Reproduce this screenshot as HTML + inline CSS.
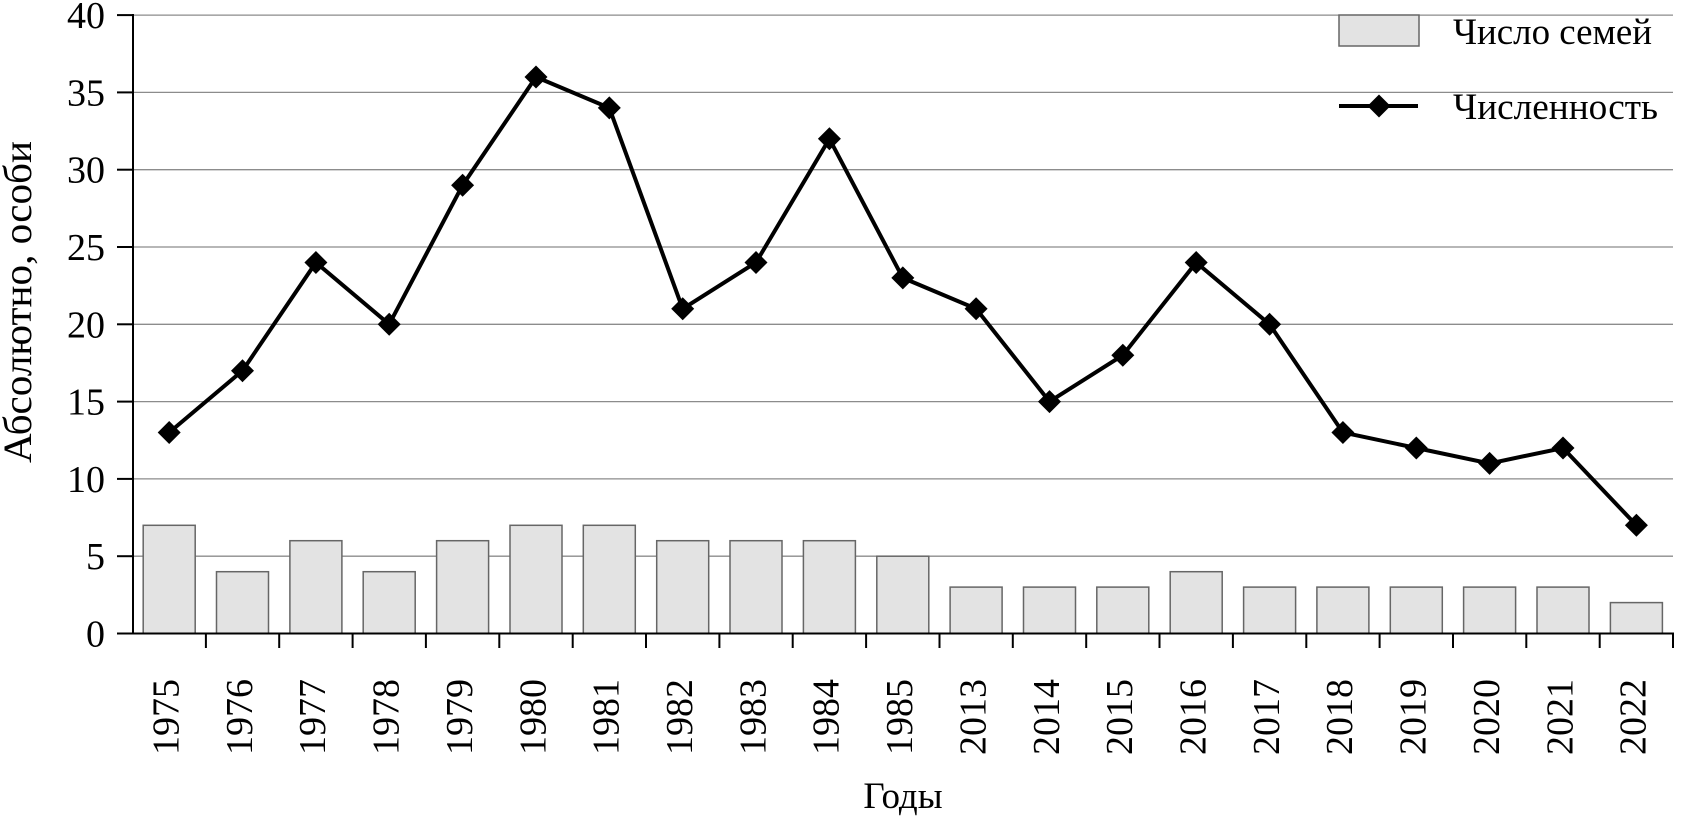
<!DOCTYPE html>
<html>
<head>
<meta charset="utf-8">
<style>
  html, body { margin: 0; padding: 0; background: #ffffff; }
  svg { display: block; }
  text { font-family: "Liberation Serif", "Noto Serif CJK SC", serif; fill: #000; }
</style>
</head>
<body>
<svg width="1689" height="818" viewBox="0 0 1689 818" xmlns="http://www.w3.org/2000/svg">
  <rect x="0" y="0" width="1689" height="818" fill="#ffffff"/>

  <!-- gridlines -->
  <g stroke="#8c8c8c" stroke-width="1.3">
    <line x1="133" y1="556.2" x2="1673" y2="556.2"/>
    <line x1="133" y1="478.9" x2="1673" y2="478.9"/>
    <line x1="133" y1="401.6" x2="1673" y2="401.6"/>
    <line x1="133" y1="324.3" x2="1673" y2="324.3"/>
    <line x1="133" y1="247.0" x2="1673" y2="247.0"/>
    <line x1="133" y1="169.7" x2="1673" y2="169.7"/>
    <line x1="133" y1="92.4" x2="1673" y2="92.4"/>
    <line x1="133" y1="15.1" x2="1673" y2="15.1"/>
  </g>

  <!-- bars -->
  <g fill="#e3e3e3" stroke="#666" stroke-width="1.5">
    <rect x="143.2" y="525.3" width="52" height="108.2"/>
    <rect x="216.5" y="571.7" width="52" height="61.8"/>
    <rect x="289.9" y="540.7" width="52" height="92.8"/>
    <rect x="363.2" y="571.7" width="52" height="61.8"/>
    <rect x="436.6" y="540.7" width="52" height="92.8"/>
    <rect x="510.0" y="525.3" width="52" height="108.2"/>
    <rect x="583.3" y="525.3" width="52" height="108.2"/>
    <rect x="656.7" y="540.7" width="52" height="92.8"/>
    <rect x="730.0" y="540.7" width="52" height="92.8"/>
    <rect x="803.4" y="540.7" width="52" height="92.8"/>
    <rect x="876.8" y="556.2" width="52" height="77.3"/>
    <rect x="950.1" y="587.1" width="52" height="46.4"/>
    <rect x="1023.5" y="587.1" width="52" height="46.4"/>
    <rect x="1096.8" y="587.1" width="52" height="46.4"/>
    <rect x="1170.2" y="571.7" width="52" height="61.8"/>
    <rect x="1243.6" y="587.1" width="52" height="46.4"/>
    <rect x="1316.9" y="587.1" width="52" height="46.4"/>
    <rect x="1390.3" y="587.1" width="52" height="46.4"/>
    <rect x="1463.6" y="587.1" width="52" height="46.4"/>
    <rect x="1537.0" y="587.1" width="52" height="46.4"/>
    <rect x="1610.4" y="602.6" width="52" height="30.9"/>
  </g>

  <!-- axes -->
  <g stroke="#000" stroke-width="2">
    <line x1="133" y1="14" x2="133" y2="634.5"/>
    <line x1="132" y1="633.5" x2="1674" y2="633.5"/>
    <!-- y ticks -->
    <line x1="117" y1="633.5" x2="133" y2="633.5"/>
    <line x1="117" y1="556.2" x2="133" y2="556.2"/>
    <line x1="117" y1="478.9" x2="133" y2="478.9"/>
    <line x1="117" y1="401.6" x2="133" y2="401.6"/>
    <line x1="117" y1="324.3" x2="133" y2="324.3"/>
    <line x1="117" y1="247.0" x2="133" y2="247.0"/>
    <line x1="117" y1="169.7" x2="133" y2="169.7"/>
    <line x1="117" y1="92.4" x2="133" y2="92.4"/>
    <line x1="117" y1="15.1" x2="133" y2="15.1"/>
    <!-- x ticks -->
    <line x1="205.9" y1="633.5" x2="205.9" y2="648"/>
    <line x1="279.2" y1="633.5" x2="279.2" y2="648"/>
    <line x1="352.6" y1="633.5" x2="352.6" y2="648"/>
    <line x1="425.9" y1="633.5" x2="425.9" y2="648"/>
    <line x1="499.3" y1="633.5" x2="499.3" y2="648"/>
    <line x1="572.7" y1="633.5" x2="572.7" y2="648"/>
    <line x1="646.0" y1="633.5" x2="646.0" y2="648"/>
    <line x1="719.4" y1="633.5" x2="719.4" y2="648"/>
    <line x1="792.7" y1="633.5" x2="792.7" y2="648"/>
    <line x1="866.1" y1="633.5" x2="866.1" y2="648"/>
    <line x1="939.5" y1="633.5" x2="939.5" y2="648"/>
    <line x1="1012.8" y1="633.5" x2="1012.8" y2="648"/>
    <line x1="1086.2" y1="633.5" x2="1086.2" y2="648"/>
    <line x1="1159.5" y1="633.5" x2="1159.5" y2="648"/>
    <line x1="1232.9" y1="633.5" x2="1232.9" y2="648"/>
    <line x1="1306.3" y1="633.5" x2="1306.3" y2="648"/>
    <line x1="1379.6" y1="633.5" x2="1379.6" y2="648"/>
    <line x1="1453.0" y1="633.5" x2="1453.0" y2="648"/>
    <line x1="1526.3" y1="633.5" x2="1526.3" y2="648"/>
    <line x1="1599.7" y1="633.5" x2="1599.7" y2="648"/>
    <line x1="1673.0" y1="633.5" x2="1673.0" y2="648"/>
  </g>

  <!-- y tick labels -->
  <g font-size="38" text-anchor="end">
    <text x="105" y="646.5">0</text>
    <text x="105" y="569.2">5</text>
    <text x="105" y="491.9">10</text>
    <text x="105" y="414.6">15</text>
    <text x="105" y="337.3">20</text>
    <text x="105" y="260.0">25</text>
    <text x="105" y="182.7">30</text>
    <text x="105" y="105.4">35</text>
    <text x="105" y="28.1">40</text>
  </g>

  <!-- x tick labels -->
  <g font-size="38" text-anchor="end">
    <text transform="translate(178.5,679) rotate(-90)">1975</text>
    <text transform="translate(251.8,679) rotate(-90)">1976</text>
    <text transform="translate(325.2,679) rotate(-90)">1977</text>
    <text transform="translate(398.6,679) rotate(-90)">1978</text>
    <text transform="translate(471.9,679) rotate(-90)">1979</text>
    <text transform="translate(545.3,679) rotate(-90)">1980</text>
    <text transform="translate(618.6,679) rotate(-90)">1981</text>
    <text transform="translate(692.0,679) rotate(-90)">1982</text>
    <text transform="translate(765.4,679) rotate(-90)">1983</text>
    <text transform="translate(838.7,679) rotate(-90)">1984</text>
    <text transform="translate(912.1,679) rotate(-90)">1985</text>
    <text transform="translate(985.4,679) rotate(-90)">2013</text>
    <text transform="translate(1058.8,679) rotate(-90)">2014</text>
    <text transform="translate(1132.2,679) rotate(-90)">2015</text>
    <text transform="translate(1205.5,679) rotate(-90)">2016</text>
    <text transform="translate(1278.9,679) rotate(-90)">2017</text>
    <text transform="translate(1352.2,679) rotate(-90)">2018</text>
    <text transform="translate(1425.6,679) rotate(-90)">2019</text>
    <text transform="translate(1499.0,679) rotate(-90)">2020</text>
    <text transform="translate(1572.3,679) rotate(-90)">2021</text>
    <text transform="translate(1645.7,679) rotate(-90)">2022</text>
  </g>

  <!-- line series -->
  <polyline fill="none" stroke="#000" stroke-width="4" stroke-linejoin="miter"
    points="169.2,432.5 242.5,370.7 315.9,262.5 389.2,324.3 462.6,185.2 536.0,77.0 609.3,107.9 682.7,308.8 756.0,262.5 829.4,138.8 902.8,277.9 976.1,308.8 1049.5,401.6 1122.8,355.2 1196.2,262.5 1269.6,324.3 1342.9,432.5 1416.3,448.0 1489.6,463.4 1563.0,448.0 1636.4,525.3"/>
  <g fill="#000">
    <polygon points="169.2,421 180.7,432.5 169.2,444 157.7,432.5"/>
    <polygon points="242.5,359.2 254,370.7 242.5,382.2 231,370.7"/>
    <polygon points="315.9,251 327.4,262.5 315.9,274 304.4,262.5"/>
    <polygon points="389.2,312.8 400.7,324.3 389.2,335.8 377.7,324.3"/>
    <polygon points="462.6,173.7 474.1,185.2 462.6,196.7 451.1,185.2"/>
    <polygon points="536.0,65.5 547.5,77.0 536.0,88.5 524.5,77.0"/>
    <polygon points="609.3,96.4 620.8,107.9 609.3,119.4 597.8,107.9"/>
    <polygon points="682.7,297.3 694.2,308.8 682.7,320.3 671.2,308.8"/>
    <polygon points="756.0,251 767.5,262.5 756.0,274 744.5,262.5"/>
    <polygon points="829.4,127.3 840.9,138.8 829.4,150.3 817.9,138.8"/>
    <polygon points="902.8,266.4 914.3,277.9 902.8,289.4 891.3,277.9"/>
    <polygon points="976.1,297.3 987.6,308.8 976.1,320.3 964.6,308.8"/>
    <polygon points="1049.5,390.1 1061,401.6 1049.5,413.1 1038,401.6"/>
    <polygon points="1122.8,343.7 1134.3,355.2 1122.8,366.7 1111.3,355.2"/>
    <polygon points="1196.2,251 1207.7,262.5 1196.2,274 1184.7,262.5"/>
    <polygon points="1269.6,312.8 1281.1,324.3 1269.6,335.8 1258.1,324.3"/>
    <polygon points="1342.9,421 1354.4,432.5 1342.9,444 1331.4,432.5"/>
    <polygon points="1416.3,436.5 1427.8,448.0 1416.3,459.5 1404.8,448.0"/>
    <polygon points="1489.6,451.9 1501.1,463.4 1489.6,474.9 1478.1,463.4"/>
    <polygon points="1563.0,436.5 1574.5,448.0 1563.0,459.5 1551.5,448.0"/>
    <polygon points="1636.4,513.8 1647.9,525.3 1636.4,536.8 1624.9,525.3"/>
  </g>

  <!-- legend -->
  <rect x="1339" y="15" width="80" height="31" fill="#e3e3e3" stroke="#666" stroke-width="1.5"/>
  <text x="1453" y="44" font-size="37" textLength="199" lengthAdjust="spacingAndGlyphs">Число семей</text>
  <line x1="1339" y1="106" x2="1418" y2="106" stroke="#000" stroke-width="4"/>
  <polygon points="1379,94.5 1390.5,106 1379,117.5 1367.5,106" fill="#000"/>
  <text x="1453" y="119" font-size="37" textLength="205" lengthAdjust="spacingAndGlyphs">Численность</text>

  <!-- axis titles -->
  <text transform="translate(31,302) rotate(-90)" font-size="40" text-anchor="middle" textLength="322" lengthAdjust="spacingAndGlyphs">Абсолютно, особи</text>
  <text x="903" y="808" font-size="37" text-anchor="middle">Годы</text>
</svg>
</body>
</html>
